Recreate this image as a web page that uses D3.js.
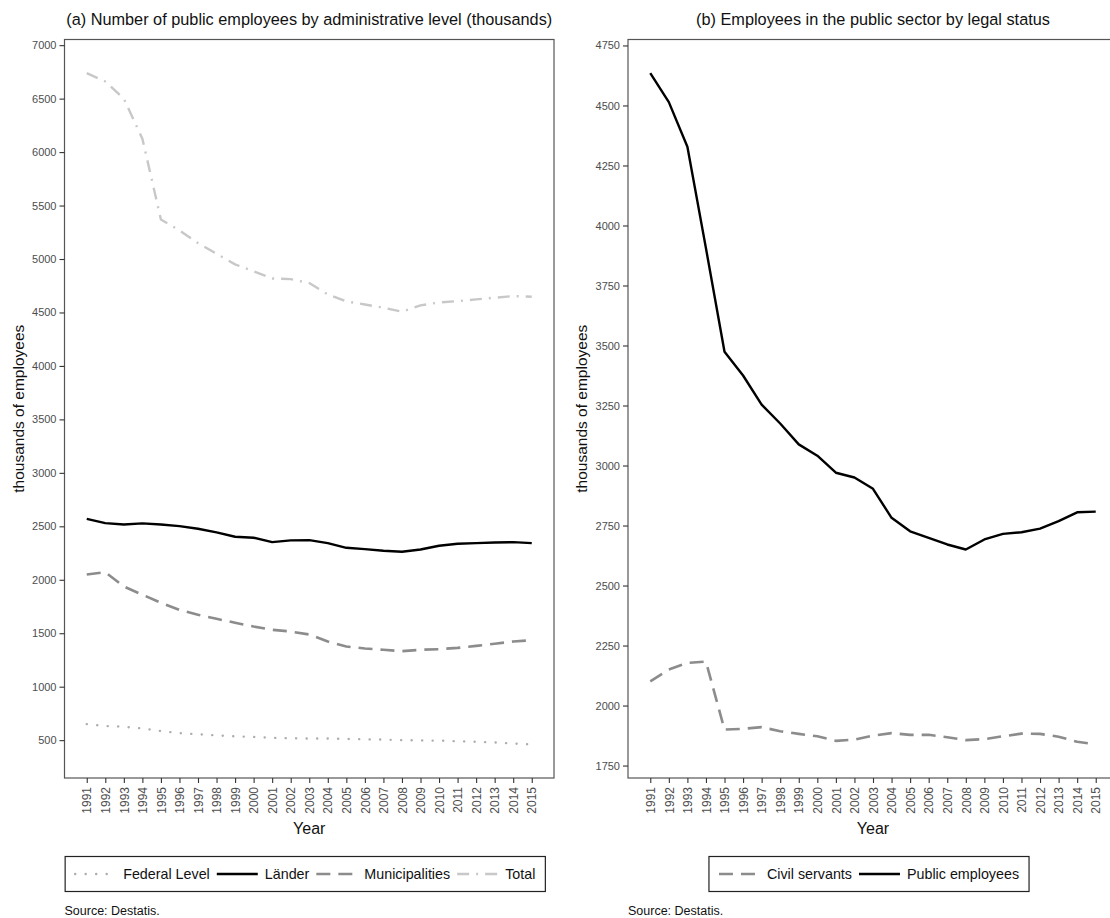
<!DOCTYPE html>
<html>
<head>
<meta charset="utf-8">
<script src="https://cdn.jsdelivr.net/npm/d3@7"></script>
<style>
  body { margin: 0; background: #fff; }
  svg { display: block; font-family: "Liberation Sans", Arial, sans-serif; }
</style>
</head>
<body>
<svg width="1110" height="918"></svg>
<script>
const years = [1991, 1992, 1993, 1994, 1995, 1996, 1997, 1998, 1999, 2000, 2001, 2002, 2003,
               2004, 2005, 2006, 2007, 2008, 2009, 2010, 2011, 2012, 2013, 2014, 2015];

// panel (a), thousands
const federalLevel = [650, 632, 625, 610, 585, 565, 555, 545, 535, 530, 522, 518, 515, 515, 512, 508, 505, 500, 498, 495, 490, 485, 478, 468, 460];
const lander = [2570, 2530, 2517, 2527, 2517, 2502, 2477, 2443, 2402, 2393, 2352, 2368, 2371, 2343, 2299, 2287, 2271, 2262, 2283, 2318, 2337, 2343, 2349, 2352, 2343];
const municipalities = [2050, 2071, 1937, 1860, 1785, 1719, 1672, 1635, 1598, 1563, 1532, 1516, 1488, 1423, 1376, 1357, 1345, 1332, 1345, 1351, 1363, 1382, 1401, 1423, 1435];
const total = [6739, 6660, 6500, 6125, 5370, 5268, 5149, 5049, 4950, 4884, 4818, 4812, 4775, 4669, 4603, 4575, 4544, 4507, 4566, 4594, 4606, 4622, 4638, 4653, 4647];

// panel (b), thousands
const civilServants = [2101, 2150, 2178, 2183, 1900, 1903, 1910, 1893, 1882, 1872, 1853, 1858, 1875, 1885, 1878, 1878, 1868, 1856, 1860, 1872, 1883, 1882, 1870, 1849, 1838];
const publicEmployees = [4635, 4514, 4328, 3905, 3474, 3375, 3254, 3175, 3088, 3041, 2970, 2950, 2903, 2782, 2726, 2699, 2671, 2650, 2692, 2715, 2722, 2737, 2768, 2805, 2808];

const ticksA = [500, 1000, 1500, 2000, 2500, 3000, 3500, 4000, 4500, 5000, 5500, 6000, 6500, 7000];
const ticksB = [1750, 2000, 2250, 2500, 2750, 3000, 3250, 3500, 3750, 4000, 4250, 4500, 4750];

const styles = {
    dotted:  { color: "#adadad", width: 2.4, dash: "0.1,10.4", cap: "round" },
    solid:   { color: "#000000", width: 2.4, dash: null, cap: "butt" },
    dashed:  { color: "#8c8c8c", width: 2.6, dash: "14,8", cap: "butt" },
    dotdash: { color: "#c8c8c8", width: 2.4, dash: "12,7,2,7", cap: "butt" }
};

const svg = d3.select("svg");
svg.append("rect").attr("width", 1110).attr("height", 918).attr("fill", "#fff");

const plotTop = 39.5, plotBottom = 778;

function drawPanel(p) {
    const g = svg.append("g");
    const x = d3.scaleLinear()
        .domain([years[0] - 1.2, years[years.length - 1] + 1.2])
        .range([p.x0, p.x1]);

    const all = p.series.flatMap(s => s.values);
    const lo = d3.min(all), hi = d3.max(all), pad = (hi - lo) * 0.05;
    const y = d3.scaleLinear().domain([lo - pad, hi + pad]).range([plotBottom, plotTop]);

    // lines
    const line = d3.line().x((d, i) => x(years[i])).y(d => y(d));
    const clipId = "clip" + p.id;
    g.append("clipPath").attr("id", clipId).append("rect")
        .attr("x", p.x0).attr("y", plotTop).attr("width", p.x1 - p.x0).attr("height", plotBottom - plotTop);

    g.append("g").attr("clip-path", `url(#${clipId})`)
        .selectAll("path")
        .data(p.series)
        .enter().append("path")
        .attr("d", d => line(d.values))
        .attr("fill", "none")
        .attr("stroke", d => styles[d.style].color)
        .attr("stroke-width", d => styles[d.style].width)
        .attr("stroke-dasharray", d => styles[d.style].dash)
        .attr("stroke-linecap", d => styles[d.style].cap)
        .attr("stroke-linejoin", "round");

    // panel border
    g.append("rect")
        .attr("x", p.x0).attr("y", plotTop)
        .attr("width", p.x1 - p.x0).attr("height", plotBottom - plotTop)
        .attr("fill", "none").attr("stroke", "#555").attr("stroke-width", 1.2);

    // y axis
    const yAxis = g.append("g")
        .attr("transform", `translate(${p.x0},0)`)
        .call(d3.axisLeft(y).tickValues(p.ticks).tickSize(5).tickPadding(3).tickFormat(d3.format("d")));
    yAxis.select(".domain").remove();
    yAxis.selectAll("line").attr("stroke", "#333").attr("stroke-width", 1.1);
    yAxis.selectAll("text").attr("fill", "#4d4d4d").attr("font-size", 11).attr("font-family", null);

    // x axis
    const xAxis = g.append("g")
        .attr("transform", `translate(0,${plotBottom})`)
        .call(d3.axisBottom(x).tickValues(years).tickSize(5).tickFormat(d3.format("d")));
    xAxis.select(".domain").remove();
    xAxis.selectAll("line").attr("stroke", "#333").attr("stroke-width", 1.1);
    xAxis.selectAll("text")
        .attr("fill", "#4d4d4d").attr("font-size", 12).attr("font-family", null)
        .attr("transform", "rotate(-90)")
        .attr("text-anchor", "end")
        .attr("x", -9).attr("y", 0).attr("dy", "0.35em");

    // titles
    const cx = (p.x0 + p.x1) / 2;
    g.append("text").attr("x", cx).attr("y", 25)
        .attr("text-anchor", "middle").attr("font-size", 16.3).attr("fill", "#111")
        .text(p.title);
    g.append("text").attr("x", cx).attr("y", 834)
        .attr("text-anchor", "middle").attr("font-size", 16).attr("fill", "#111")
        .text("Year");
    g.append("text")
        .attr("transform", `translate(${p.x0 - 41},${(plotTop + plotBottom) / 2}) rotate(-90)`)
        .attr("text-anchor", "middle").attr("font-size", 15.5).attr("fill", "#111")
        .text("thousands of employees");

    // legend
    const lg = g.append("g");
    const keyW = 41, gap = 7, itemGap = 7, padX = 10;
    const items = lg.selectAll("g.item")
        .data(p.series.slice().sort((a, b) => a.order - b.order))
        .enter().append("g").attr("class", "item");
    items.append("text")
        .attr("font-size", 14.3).attr("fill", "#111").attr("dy", "0.35em")
        .text(d => d.name);
    let cursor = padX;
    items.each(function (d) {
        const t = d3.select(this).select("text");
        const w = t.node().getComputedTextLength();
        d.kx = cursor;
        d.tx = cursor + keyW + gap;
        cursor = d.tx + w + itemGap;
    });
    const boxW = cursor - itemGap + padX;
    const bx = cx - boxW / 2 - 4, by = 856.5, bh = 35;
    lg.attr("transform", `translate(${bx},${by})`);
    lg.insert("rect", ":first-child")
        .attr("width", boxW).attr("height", bh)
        .attr("fill", "#fff").attr("stroke", "#222").attr("stroke-width", 1.2);
    items.select("text").attr("x", d => d.tx).attr("y", bh / 2);
    items.append("line")
        .attr("x1", d => d.kx).attr("x2", d => d.kx + keyW)
        .attr("y1", bh / 2).attr("y2", bh / 2)
        .attr("stroke", d => styles[d.style].color)
        .attr("stroke-width", d => styles[d.style].width)
        .attr("stroke-dasharray", d => styles[d.style].dash)
        .attr("stroke-linecap", d => styles[d.style].cap);

    g.append("text").attr("x", p.x0).attr("y", 915)
        .attr("font-size", 12.5).attr("fill", "#111")
        .text("Source: Destatis.");
}

drawPanel({
    id: "a", x0: 64.5, x1: 554,
    title: "(a) Number of public employees by administrative level (thousands)",
    ticks: ticksA,
    series: [
        { name: "Total", values: total, style: "dotdash", order: 4 },
        { name: "Federal Level", values: federalLevel, style: "dotted", order: 1 },
        { name: "Municipalities", values: municipalities, style: "dashed", order: 3 },
        { name: "Länder", values: lander, style: "solid", order: 2 }
    ]
});

drawPanel({
    id: "b", x0: 628, x1: 1118,
    title: "(b) Employees in the public sector by legal status",
    ticks: ticksB,
    series: [
        { name: "Civil servants", values: civilServants, style: "dashed", order: 1 },
        { name: "Public employees", values: publicEmployees, style: "solid", order: 2 }
    ]
});
</script>
</body>
</html>
